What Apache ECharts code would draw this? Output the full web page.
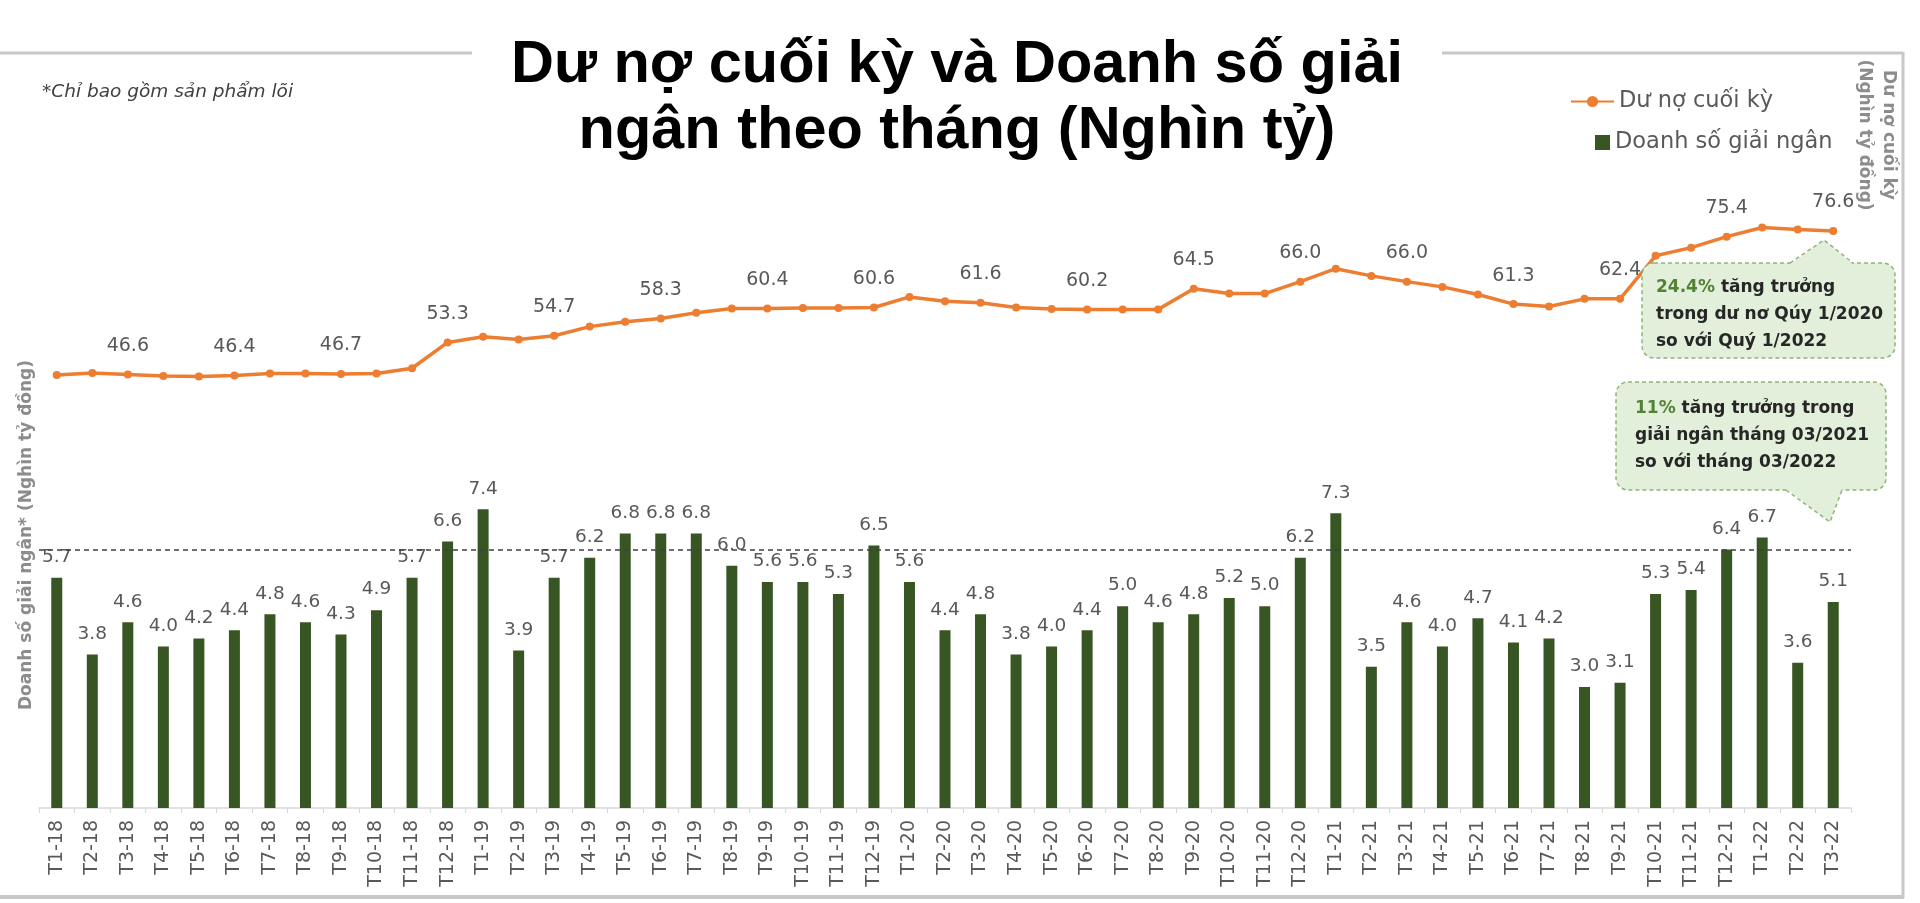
<!DOCTYPE html>
<html>
<head>
<meta charset="utf-8">
<script src="https://cdn.jsdelivr.net/npm/echarts@6/dist/echarts.min.js"></script>
<style>
html,body{margin:0;padding:0;background:#fff;}
#chart{width:1920px;height:903px;}
</style>
</head>
<body>
<div id="chart"></div>
<script>
var categories = ['T1-18','T2-18','T3-18','T4-18','T5-18','T6-18','T7-18','T8-18','T9-18','T10-18','T11-18','T12-18',
  'T1-19','T2-19','T3-19','T4-19','T5-19','T6-19','T7-19','T8-19','T9-19','T10-19','T11-19','T12-19',
  'T1-20','T2-20','T3-20','T4-20','T5-20','T6-20','T7-20','T8-20','T9-20','T10-20','T11-20','T12-20',
  'T1-21','T2-21','T3-21','T4-21','T5-21','T6-21','T7-21','T8-21','T9-21','T10-21','T11-21','T12-21',
  'T1-22','T2-22','T3-22'];

var disbursement = [5.7,3.8,4.6,4.0,4.2,4.4,4.8,4.6,4.3,4.9,5.7,6.6,
  7.4,3.9,5.7,6.2,6.8,6.8,6.8,6.0,5.6,5.6,5.3,6.5,
  5.6,4.4,4.8,3.8,4.0,4.4,5.0,4.6,4.8,5.2,5.0,6.2,
  7.3,3.5,4.6,4.0,4.7,4.1,4.2,3.0,3.1,5.3,5.4,6.4,
  6.7,3.6,5.1];

var outstanding = [46.5,46.9,46.6,46.3,46.2,46.4,46.8,46.8,46.7,46.8,47.9,53.3,
  54.5,53.9,54.7,56.6,57.6,58.3,59.5,60.4,60.4,60.5,60.5,60.6,
  62.8,61.9,61.6,60.6,60.3,60.2,60.2,60.2,64.5,63.5,63.5,66.0,
  68.7,67.2,66.0,64.9,63.3,61.3,60.8,62.4,62.4,71.4,73.1,75.4,
  77.3,76.9,76.6];

var referenceLevel = 6.4;
var seriesNames = ['Dư nợ cuối kỳ', 'Doanh số giải ngân'];

var FONT = '"DejaVu Sans", sans-serif';
var GRAY = '#595959';
var BOX_FILL = '#e2efda';
var BOX_LINE = '#93b37a';

function callout(x0, y0, x1, y1, r, side, b0, b1, ax, ay) {
  var by = side === 'top' ? y0 : y1;
  var inset = side === 'top' ? 1.5 : -1.5;
  return [
    {
      type: 'rect', z: 10,
      shape: { x: x0, y: y0, width: x1 - x0, height: y1 - y0, r: r },
      style: { fill: BOX_FILL, stroke: BOX_LINE, lineWidth: 1.5, lineDash: [4, 3] }
    },
    {
      type: 'polygon', z: 10,
      shape: { points: [[b0, by + inset], [ax, ay], [b1, by + inset]] },
      style: { fill: BOX_FILL, stroke: null }
    },
    {
      type: 'polyline', z: 10,
      shape: { points: [[b0, by], [ax, ay], [b1, by]] },
      style: { fill: null, stroke: BOX_LINE, lineWidth: 1.5, lineDash: [4, 3] }
    }
  ];
}

var graphics = [
  { type: 'line', shape: { x1: 0, y1: 53, x2: 472, y2: 53 }, style: { stroke: '#c8c8c8', lineWidth: 3 } },
  { type: 'line', shape: { x1: 1442, y1: 53, x2: 1903, y2: 53 }, style: { stroke: '#c8c8c8', lineWidth: 3 } },
  { type: 'line', shape: { x1: 1903, y1: 52, x2: 1903, y2: 898 }, style: { stroke: '#c8c8c8', lineWidth: 3 } },
  { type: 'line', shape: { x1: 0, y1: 897, x2: 1904, y2: 897 }, style: { stroke: '#c8c8c8', lineWidth: 4 } },
  {
    type: 'text', x: 957, y: 33,
    style: {
      text: 'Dư nợ cuối kỳ và Doanh số giải\nngân theo tháng (Nghìn tỷ)',
      fontFamily: '"Liberation Sans", Arial, sans-serif', fontWeight: 'bold', fontSize: 59.5, lineHeight: 66,
      fill: '#000000', align: 'center', verticalAlign: 'top'
    }
  },
  {
    type: 'text', x: 42, y: 92,
    style: { text: '*Chỉ bao gồm sản phẩm lõi', fontFamily: FONT, fontStyle: 'italic', fontSize: 18.5, fill: '#404040', verticalAlign: 'middle' }
  },
  {
    type: 'text', x: 27, y: 535, rotation: Math.PI / 2,
    style: { text: 'Doanh số giải ngân* (Nghìn tỷ đồng)', fontFamily: FONT, fontWeight: 'bold', fontSize: 17, fill: '#8c8c8c', align: 'center', verticalAlign: 'middle' }
  },
  {
    type: 'text', x: 1876, y: 135, rotation: -Math.PI / 2,
    style: { text: 'Dư nợ cuối kỳ\n(Nghìn tỷ đồng)', fontFamily: FONT, fontWeight: 'bold', fontSize: 17, lineHeight: 24, fill: '#8c8c8c', align: 'center', verticalAlign: 'middle' }
  }
].concat(
  callout(1642, 263, 1895, 358, 12, 'top', 1790, 1853, 1824, 240),
  callout(1616, 382, 1886, 490, 12, 'bottom', 1786, 1842, 1830, 522),
  [
    {
      type: 'text', x: 1656, y: 315, z: 11,
      style: {
        text: '{g|24.4%} tăng trưởng\ntrong dư nơ Qúy 1/2020\nso với Quý 1/2022',
        fontFamily: FONT, fontWeight: 'bold', fontSize: 17, lineHeight: 27, fill: '#262626', verticalAlign: 'middle',
        rich: { g: { fontFamily: FONT, fontWeight: 'bold', fontSize: 17, lineHeight: 27, fill: '#548235' } }
      }
    },
    {
      type: 'text', x: 1635, y: 436, z: 11,
      style: {
        text: '{g|11%} tăng trưởng trong\ngiải ngân tháng 03/2021\nso với tháng 03/2022',
        fontFamily: FONT, fontWeight: 'bold', fontSize: 17, lineHeight: 27, fill: '#262626', verticalAlign: 'middle',
        rich: { g: { fontFamily: FONT, fontWeight: 'bold', fontSize: 17, lineHeight: 27, fill: '#548235' } }
      }
    }
  ]
);

var chart = echarts.init(document.getElementById('chart'));
var option = {
  backgroundColor: '#ffffff',
  animation: false,
  legend: [{
    data: [seriesNames[0]],
    left: 1570,
    top: 90,
    padding: 0,
    itemWidth: 43,
    itemHeight: 14,
    textStyle: { fontFamily: FONT, fontSize: 22.5, color: GRAY }
  }, {
    data: [{ name: seriesNames[1], icon: 'rect' }],
    left: 1595,
    top: 131,
    padding: 0,
    itemWidth: 15,
    itemHeight: 15,
    textStyle: { fontFamily: FONT, fontSize: 22.5, color: GRAY }
  }],
  grid: { left: 39, right: 69, top: 162, bottom: 95 },
  xAxis: {
    type: 'category',
    data: categories,
    boundaryGap: true,
    axisLine: { show: true, lineStyle: { color: '#d9d9d9', width: 1.5 } },
    axisTick: { show: true, length: 5, lineStyle: { color: '#d9d9d9' } },
    axisLabel: {
      rotate: 90,
      interval: 0,
      margin: 12,
      fontFamily: FONT,
      fontSize: 19,
      color: GRAY
    }
  },
  yAxis: [{
    type: 'value',
    min: 0,
    max: 16,
    show: false,
    splitLine: { show: false }
  }, {
    type: 'value',
    min: -44,
    max: 91,
    show: false,
    splitLine: { show: false }
  }],
  series: [{
    name: seriesNames[1],
    type: 'bar',
    yAxisIndex: 0,
    data: disbursement,
    barWidth: 11,
    itemStyle: { color: '#375623' },
    label: {
      show: true,
      position: 'top',
      distance: 11,
      fontFamily: FONT,
      fontSize: 18.5,
      color: GRAY,
      formatter: function (p) { return p.value.toFixed(1); }
    },
    markLine: {
      silent: true,
      symbol: 'none',
      label: { show: false },
      lineStyle: { color: '#404040', type: [5, 4], width: 1.5 },
      data: [{ yAxis: referenceLevel }]
    },
    z: 2
  }, {
    name: seriesNames[0],
    type: 'line',
    yAxisIndex: 1,
    data: outstanding,
    symbol: 'circle',
    symbolSize: 8,
    lineStyle: { color: '#ed7d31', width: 3.5 },
    itemStyle: { color: '#ed7d31' },
    label: {
      show: true,
      position: 'top',
      distance: 15,
      fontFamily: FONT,
      fontSize: 19,
      color: GRAY,
      formatter: function (p) { return p.dataIndex % 3 === 2 ? p.value.toFixed(1) : ''; }
    },
    z: 3
  }],
  graphic: graphics
};
chart.setOption(option);
</script>
</body>
</html>
